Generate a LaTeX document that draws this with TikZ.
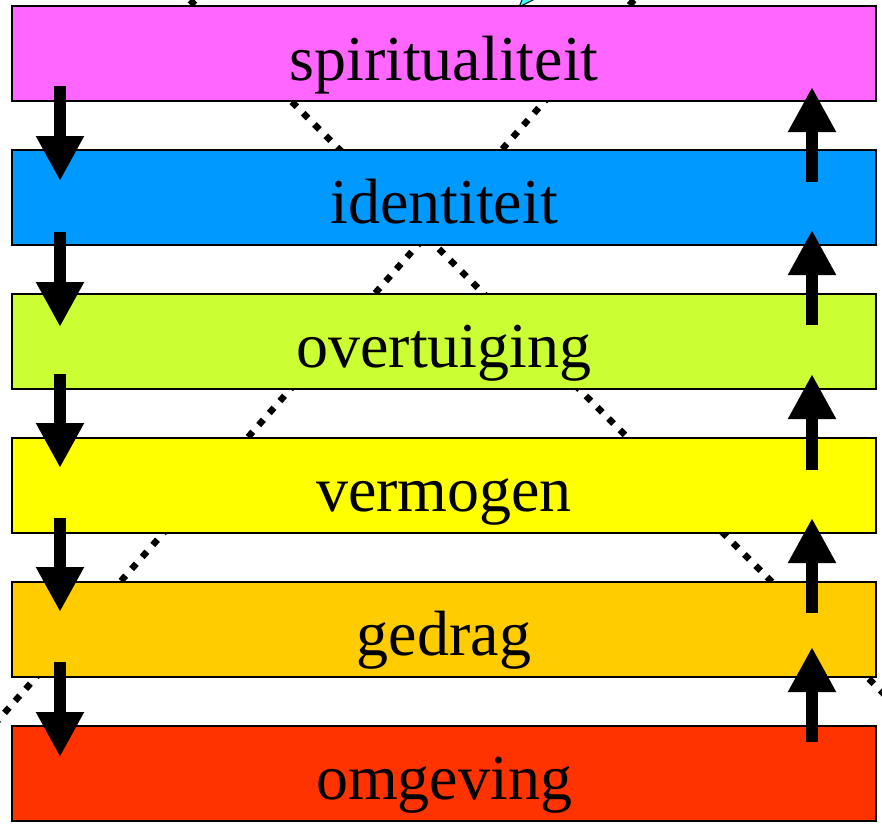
\documentclass[tikz,border=0pt]{standalone}
\usepackage{fontspec}
\setmainfont{Liberation Serif}
\usetikzlibrary{arrows.meta}

\definecolor{cSpirit}{HTML}{FF66FF}
\definecolor{cIdent}{HTML}{0099FF}
\definecolor{cBelief}{HTML}{CCFF33}
\definecolor{cSkill}{HTML}{FFFF00}
\definecolor{cBehav}{HTML}{FFCC00}
\definecolor{cEnv}{HTML}{FF3300}
\definecolor{cAqua}{HTML}{33FFFF}

\tikzset{
  levelbar/.style={draw=black, line width=1.5pt, rectangle, inner sep=0pt,
    minimum width=864pt, minimum height=95pt},
  levellabel/.style={anchor=base, inner sep=0pt, font=\fontsize{64}{70}\selectfont},
  dotline/.style={line width=6.5pt, dash pattern=on 7pt off 9pt, black},
  flow/.style={line width=12pt, black,
    -{Triangle[length=45pt,width=45pt]}, shorten >=0pt},
}

\begin{document}
\begin{tikzpicture}[x=1pt,y=-1pt]
  \useasboundingbox (0,0) rectangle (882,824);
  \begin{scope}
    \clip (0,0) rectangle (882,824);
    % background guides: two dotted diagonals crossing behind the bars
    \coordinate (dA1) at (190,0);
    \coordinate (dA2) at (1000,810);
    \coordinate (dB1) at (634,0);
    \coordinate (dB2) at (-30,752);
    \draw[dotline] (dA1) -- (dA2);
    \draw[dotline] (dB1) -- (dB2);
    % small aqua fragment peeking above the top bar
    \filldraw[fill=cAqua, draw=black, line width=1pt]
      (519,7) -- (545,-6) -- (528,-14) -- cycle;
  \end{scope}

  % level bars
  \node[levelbar, fill=cSpirit] (b1) at (444,53.5) {};
  \node[levelbar, fill=cIdent]  (b2) at (444,197.5) {};
  \node[levelbar, fill=cBelief] (b3) at (444,341.5) {};
  \node[levelbar, fill=cSkill]  (b4) at (444,485.5) {};
  \node[levelbar, fill=cBehav]  (b5) at (444,629.5) {};
  \node[levelbar, fill=cEnv]    (b6) at (444,773.5) {};

  \node[levellabel] (t1) at ([yshift=-27pt]b1.center) {spiritualiteit};
  \node[levellabel] (t2) at ([yshift=-26pt]b2.center) {identiteit};
  \node[levellabel] (t3) at ([yshift=-26pt]b3.center) {overtuiging};
  \node[levellabel] (t4) at ([yshift=-26pt]b4.center) {vermogen};
  \node[levellabel] (t5) at ([yshift=-26pt]b5.center) {gedrag};
  \node[levellabel] (t6) at ([yshift=-26pt]b6.center) {omgeving};

  % downward arrows on the left
  \coordinate (dn1s) at (60,86);  \coordinate (dn1e) at (60,181);
  \coordinate (dn2s) at (60,232); \coordinate (dn2e) at (60,327);
  \coordinate (dn3s) at (60,374); \coordinate (dn3e) at (60,468);
  \coordinate (dn4s) at (60,518); \coordinate (dn4e) at (60,612);
  \coordinate (dn5s) at (60,662); \coordinate (dn5e) at (60,757);
  \foreach \i in {1,...,5} \draw[flow] (dn\i s) -- (dn\i e);

  % upward arrows on the right
  \coordinate (up1s) at (812,182); \coordinate (up1e) at (812,87);
  \coordinate (up2s) at (812,325); \coordinate (up2e) at (812,230);
  \coordinate (up3s) at (812,470); \coordinate (up3e) at (812,374);
  \coordinate (up4s) at (812,613); \coordinate (up4e) at (812,518);
  \coordinate (up5s) at (812,742); \coordinate (up5e) at (812,647);
  \foreach \i in {1,...,5} \draw[flow] (up\i s) -- (up\i e);
\end{tikzpicture}
\end{document}
